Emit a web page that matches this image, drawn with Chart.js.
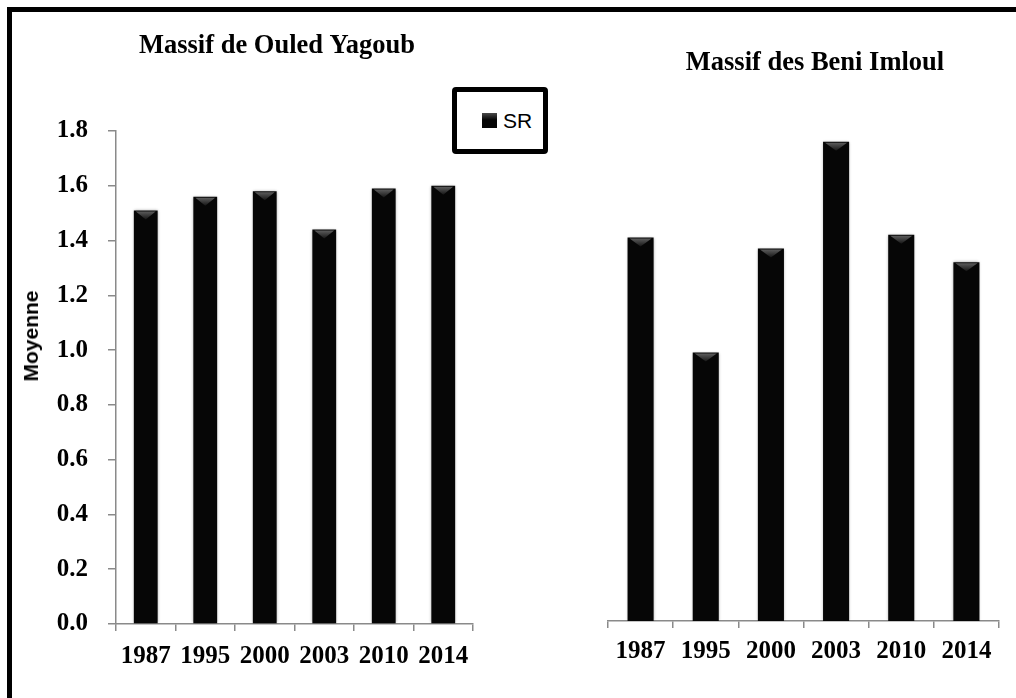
<!DOCTYPE html>
<html>
<head>
<meta charset="utf-8">
<title>SR moyenne par massif</title>
<script src="https://cdn.jsdelivr.net/npm/chart.js@4.4.1/dist/chart.umd.min.js"></script>
<style>
  html, body { margin: 0; padding: 0; background: #fff; overflow: hidden; }
  body { width: 1016px; height: 698px; position: relative; }
  .frame {
    position: absolute; left: 7px; top: 7px; width: 2000px; height: 2000px;
    border-left: 5px solid #000; border-top: 5px solid #000;
  }
  canvas { position: absolute; top: 0; }
  #chartOuled { left: 0; }
  #chartBeni { left: 600px; }
  .ytitle {
    position: absolute; left: 31px; top: 336px;
    transform: translate(-50%, -50%) rotate(-90deg);
    font: bold 21px "Liberation Sans", Arial, sans-serif; white-space: nowrap;
  }
  .legend {
    position: absolute; left: 452px; top: 87px; width: 96px; height: 67px;
    box-sizing: border-box; border: 5px solid #000; border-radius: 4px; background: #fff;
    display: flex; align-items: center; padding-left: 25px;
    font: 21px "Liberation Sans", Arial, sans-serif;
  }
  .legend .swatch {
    width: 15px; height: 15px; margin-right: 6px;
    background: linear-gradient(#4a4a4a, #050505 45%);
  }
</style>
</head>
<body>
<div class="frame"></div>
<canvas id="chartOuled" width="554" height="698"></canvas>
<canvas id="chartBeni" width="430" height="698"></canvas>
<div class="ytitle">Moyenne</div>
<div class="legend" id="legend"></div>

<script>
const years = ['1987', '1995', '2000', '2003', '2010', '2014'];
const ouledYagoub = [1.51, 1.56, 1.58, 1.44, 1.59, 1.60];
const beniImloul = [1.40, 0.98, 1.36, 1.75, 1.41, 1.31];
const seriesLabel = 'SR';
const yMax = 1.8;
const yStep = 0.2;

Chart.defaults.font.family = '"Liberation Serif", "Times New Roman", serif';
Chart.defaults.color = '#000';

const axisGrey = '#8a8a8a';
const tickFont = { size: 25, weight: 'bold' };
const titleFont = { size: 26.5, weight: 'bold', lineHeight: 1.2 };

// dark bars with a soft halo and a small bevel on top
const bevel = {
  id: 'bevel',
  beforeDatasetsDraw(chart) {
    const ctx = chart.ctx;
    ctx.save();
    ctx.shadowColor = 'rgba(0,0,0,0.4)';
    ctx.shadowBlur = 3;
  },
  afterDatasetsDraw(chart) {
    const ctx = chart.ctx;
    ctx.restore();
    chart.getDatasetMeta(0).data.forEach(bar => {
      const half = bar.width / 2;
      const top = bar.y + 1;
      const g = ctx.createLinearGradient(0, top, 0, top + 8);
      g.addColorStop(0, '#5c5c5c');
      g.addColorStop(1, '#151515');
      ctx.beginPath();
      ctx.moveTo(bar.x - half + 2, top);
      ctx.lineTo(bar.x + half - 2, top);
      ctx.lineTo(bar.x, top + 8);
      ctx.closePath();
      ctx.fillStyle = g;
      ctx.fill();
    });
  }
};

// empty axis on the right, it only reserves room so the title sits where it should
function spacerAxis(width) {
  return {
    type: 'linear',
    position: 'right',
    min: 0,
    max: yMax,
    grid: { display: false },
    border: { display: false },
    ticks: { display: false },
    afterFit: s => { s.width = width; }
  };
}

function makeChart(id, title, values, opts) {
  const scales = {
    x: {
      grid: {
        offset: true,
        drawOnChartArea: false,
        drawTicks: true,
        tickLength: 7,
        color: axisGrey,
        lineWidth: 1.5
      },
      border: { display: true, color: axisGrey, width: 1.5 },
      ticks: { font: tickFont, color: '#000', padding: opts.xPad, maxRotation: 0, autoSkip: false },
      afterFit: s => { s.height = opts.xHeight; }
    }
  };

  if (opts.showY) {
    scales.y = {
      position: 'left',
      min: 0,
      max: yMax,
      grid: {
        drawOnChartArea: false,
        drawTicks: true,
        tickLength: 8,
        color: axisGrey,
        lineWidth: 1.5
      },
      border: { display: true, color: axisGrey, width: 1.5 },
      ticks: {
        stepSize: yStep,
        font: tickFont,
        color: '#000',
        padding: 20,
        callback: v => Number(v).toFixed(1)
      },
      afterFit: s => { s.width = 116; }
    };
    scales.spacer = spacerAxis(opts.spacer);
  } else {
    scales.y = spacerAxis(opts.spacer);
  }

  return new Chart(document.getElementById(id), {
    type: 'bar',
    data: {
      labels: years,
      datasets: [{
        label: seriesLabel,
        data: values,
        backgroundColor: '#060606',
        borderWidth: 0,
        barPercentage: 0.8,
        categoryPercentage: 0.5
      }]
    },
    plugins: [bevel],
    options: {
      responsive: false,
      animation: false,
      layout: { padding: opts.padding },
      plugins: {
        legend: { display: false },
        tooltip: { enabled: false },
        title: {
          display: true,
          text: title,
          font: titleFont,
          color: '#000',
          padding: opts.titlePadding
        }
      },
      scales
    }
  });
}

const left = makeChart('chartOuled', 'Massif de Ouled Yagoub', ouledYagoub, {
  padding: { left: 0, right: 0, top: 0, bottom: 0 },
  titlePadding: { top: 30, bottom: 69.2 },
  xHeight: 74,
  xPad: 11,
  spacer: 81,
  showY: true
});

makeChart('chartBeni', 'Massif des Beni Imloul', beniImloul, {
  padding: { left: 8, right: 8, top: 0, bottom: 0 },
  titlePadding: { top: 47, bottom: 49.2 },
  xHeight: 77,
  xPad: 9,
  spacer: 23,
  showY: false
});

// legend box built from the dataset
const ds = left.data.datasets[0];
document.getElementById('legend').innerHTML =
  '<span class="swatch"></span><span>' + ds.label + '</span>';
</script>
</body>
</html>
